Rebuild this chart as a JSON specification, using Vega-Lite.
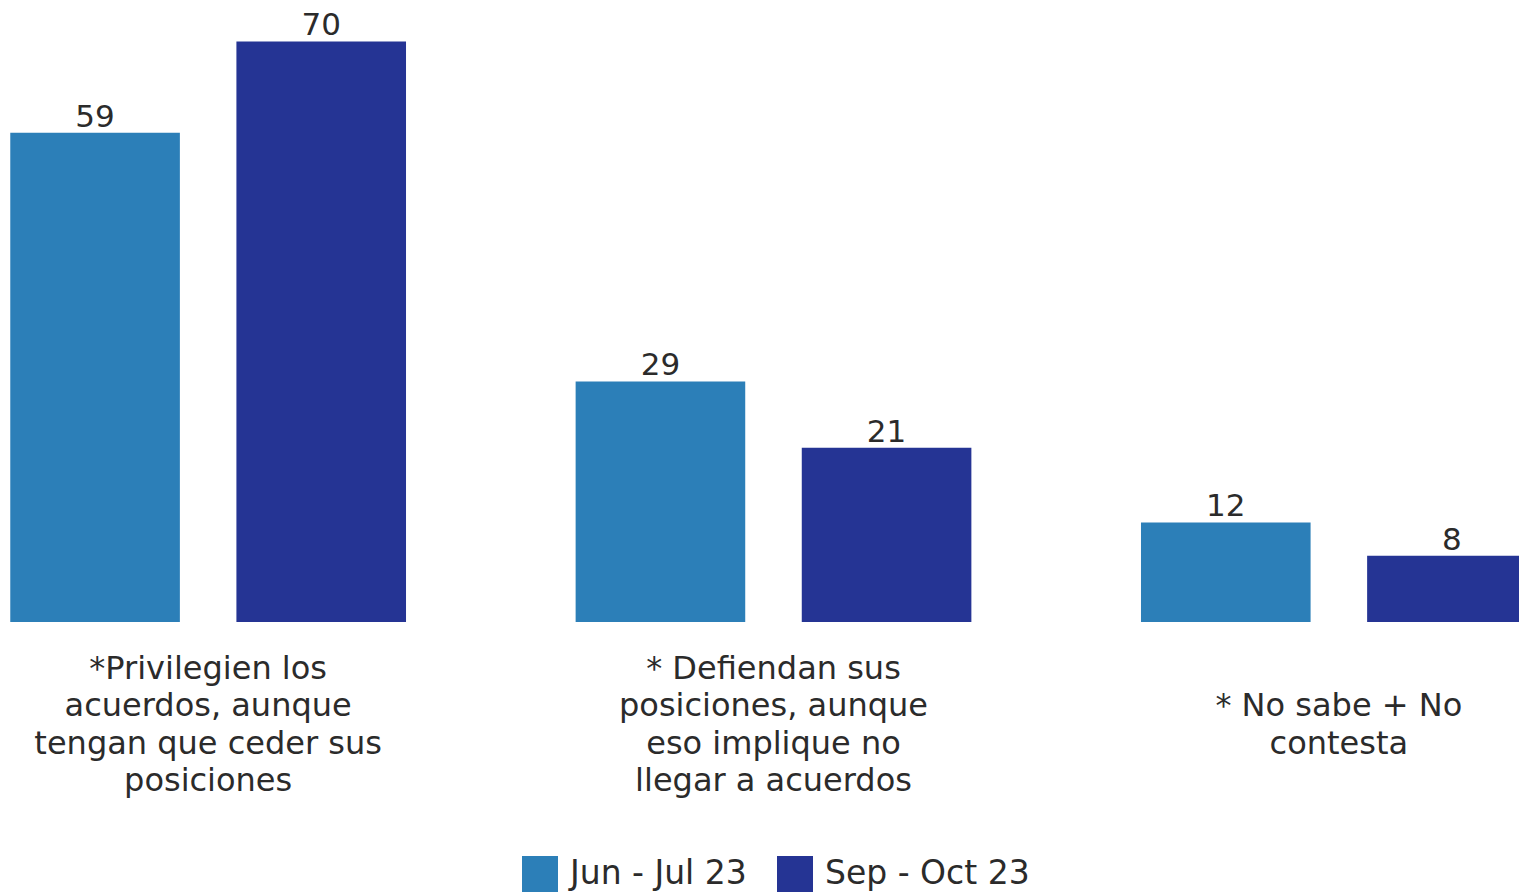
{
  "$schema": "https://vega.github.io/schema/vega-lite/v6.json",
  "width": 1519,
  "height": 622,
  "autosize": {"type": "none"},
  "padding": {"left": 0, "top": 0, "right": 0, "bottom": 271},
  "background": "white",
  "config": {"view": {"stroke": null}, "font": "DejaVu Sans"},
  "data": {
    "values": [
      {"cat": "*Privilegien los|acuerdos, aunque|tengan que ceder sus|posiciones", "period": "Jun - Jul 23", "value": 59},
      {"cat": "*Privilegien los|acuerdos, aunque|tengan que ceder sus|posiciones", "period": "Sep - Oct 23", "value": 70},
      {"cat": "* Defiendan sus|posiciones, aunque|eso implique no|llegar a acuerdos", "period": "Jun - Jul 23", "value": 29},
      {"cat": "* Defiendan sus|posiciones, aunque|eso implique no|llegar a acuerdos", "period": "Sep - Oct 23", "value": 21},
      {"cat": "|* No sabe + No|contesta", "period": "Jun - Jul 23", "value": 12},
      {"cat": "|* No sabe + No|contesta", "period": "Sep - Oct 23", "value": 8}
    ]
  },
  "encoding": {
    "x": {
      "field": "cat",
      "type": "nominal",
      "sort": null,
      "scale": {"range": [-18, 1565], "paddingInner": 0.2, "paddingOuter": 0},
      "axis": {
        "title": null,
        "domain": false,
        "ticks": false,
        "labelAngle": 0,
        "labelFontSize": 32,
        "labelLineHeight": 37.5,
        "labelBaseline": "middle",
        "labelPadding": 46,
        "labelColor": "#2b2b2b",
        "labelLimit": 0,
        "labelExpr": "split(datum.label, '|')"
      }
    },
    "xOffset": {
      "field": "period",
      "type": "nominal",
      "sort": null,
      "scale": {"paddingInner": 0.25, "paddingOuter": 0.125}
    },
    "y": {
      "field": "value",
      "type": "quantitative",
      "scale": {"domain": [0, 75]},
      "axis": null
    }
  },
  "layer": [
    {
      "mark": {"type": "bar"},
      "encoding": {
        "color": {
          "field": "period",
          "type": "nominal",
          "scale": {"domain": ["Jun - Jul 23", "Sep - Oct 23"], "range": ["#2c7fb8", "#253494"]},
          "legend": {
            "title": null,
            "orient": "none",
            "legendX": 522,
            "legendY": 856,
            "direction": "horizontal",
            "symbolType": "square",
            "symbolSize": 1296,
            "symbolStrokeWidth": 0,
            "symbolOpacity": 1,
            "labelFontSize": 33,
            "labelLimit": 400,
            "labelColor": "#2b2b2b",
            "labelOffset": 12,
            "columnPadding": 30,
            "padding": 0
          }
        }
      }
    },
    {
      "mark": {"type": "text", "baseline": "alphabetic", "dy": -6, "fontSize": 31, "color": "#2b2b2b"},
      "encoding": {"text": {"field": "value", "type": "quantitative"}}
    }
  ]
}
